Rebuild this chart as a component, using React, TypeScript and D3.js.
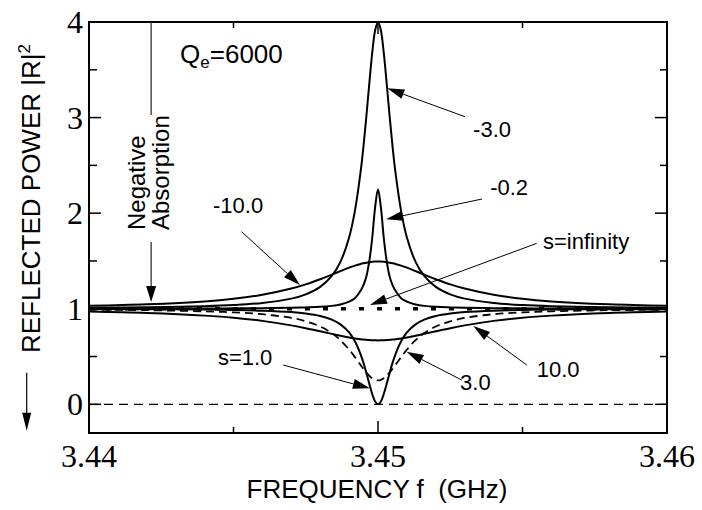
import React from 'react';
import * as d3 from 'd3';

const freq = [3.440, 3.442, 3.444, 3.445, 3.446, 3.447, 3.4475, 3.448, 3.4484, 3.4487, 3.449, 3.4492, 3.4494, 3.4495, 3.4496, 3.4497, 3.4498, 3.4499, 3.4500, 3.4501, 3.4502, 3.4503, 3.4504, 3.4505, 3.4506, 3.4508, 3.4510, 3.4513, 3.4516, 3.4520, 3.4525, 3.4530, 3.4540, 3.4550, 3.4560, 3.4580, 3.4600];

// Reflected power |R|^2 for each s
const sNeg3 = [1.010, 1.015, 1.027, 1.039, 1.061, 1.106, 1.151, 1.229, 1.343, 1.491, 1.746, 2.022, 2.436, 2.708, 3.022, 3.359, 3.676, 3.912, 4.000, 3.912, 3.676, 3.359, 3.022, 2.708, 2.436, 2.022, 1.746, 1.491, 1.343, 1.229, 1.151, 1.106, 1.061, 1.039, 1.027, 1.015, 1.010];
const sNeg02 = [1.001, 1.002, 1.003, 1.004, 1.006, 1.010, 1.014, 1.020, 1.030, 1.045, 1.075, 1.110, 1.190, 1.250, 1.340, 1.500, 1.740, 2.060, 2.250, 2.060, 1.740, 1.500, 1.340, 1.250, 1.190, 1.110, 1.075, 1.045, 1.030, 1.020, 1.014, 1.010, 1.006, 1.004, 1.003, 1.002, 1.001];
const sNeg10 = [1.031, 1.047, 1.077, 1.104, 1.146, 1.211, 1.255, 1.309, 1.357, 1.394, 1.430, 1.451, 1.469, 1.476, 1.482, 1.487, 1.491, 1.493, 1.494, 1.493, 1.491, 1.487, 1.482, 1.476, 1.469, 1.451, 1.430, 1.394, 1.357, 1.309, 1.255, 1.211, 1.146, 1.104, 1.077, 1.047, 1.031];
const sPos1 = [0.997, 0.995, 0.991, 0.987, 0.980, 0.965, 0.950, 0.924, 0.886, 0.836, 0.752, 0.659, 0.521, 0.431, 0.326, 0.214, 0.108, 0.029, 0.000, 0.029, 0.108, 0.214, 0.326, 0.431, 0.521, 0.659, 0.752, 0.836, 0.886, 0.924, 0.950, 0.965, 0.980, 0.987, 0.991, 0.995, 0.997];
const sPos3 = [0.990, 0.985, 0.973, 0.962, 0.943, 0.904, 0.869, 0.814, 0.745, 0.671, 0.573, 0.495, 0.410, 0.369, 0.331, 0.298, 0.272, 0.256, 0.250, 0.256, 0.272, 0.298, 0.331, 0.369, 0.410, 0.495, 0.573, 0.671, 0.745, 0.814, 0.869, 0.904, 0.943, 0.962, 0.973, 0.985, 0.990];
const sPos10 = [0.970, 0.955, 0.928, 0.906, 0.873, 0.826, 0.797, 0.764, 0.737, 0.717, 0.699, 0.689, 0.681, 0.677, 0.675, 0.672, 0.671, 0.670, 0.669, 0.670, 0.671, 0.672, 0.675, 0.677, 0.681, 0.689, 0.699, 0.717, 0.737, 0.764, 0.797, 0.826, 0.873, 0.906, 0.928, 0.955, 0.970];
const infFreq = [3.44, 3.46];
const sInf = [1, 1];
const zeroFreq = [3.44, 3.46];
const zeroVals = [0, 0];

const xTicks = [3.44, 3.45, 3.46];
const xTickLabels = ['3.44', '3.45', '3.46'];
const xMinor = [3.445, 3.455];
const yTicks = [0, 1, 2, 3, 4];
const yTickLabels = ['0', '1', '2', '3', '4'];
const yMinor = [0.5, 1.5, 2.5, 3.5];

// annotation labels (text pos + arrow tail + arrow tip, in data units)
const annLabels = ['-3.0', '-0.2', 's=infinity', '-10.0', 's=1.0', '3.0', '10.0'];
const annText = [[3.45329, 2.797], [3.45388, 2.190], [3.45571, 1.625], [3.44429, 2.000], [3.44446, 0.411], [3.45284, 0.150], [3.45549, 0.286]];
const annTail = [[3.45301, 3.009], [3.45360, 2.148], [3.45549, 1.684], [3.44528, 1.806], [3.44672, 0.411], [3.45290, 0.254], [3.45515, 0.411]];
const annTip = [[3.45032, 3.306], [3.45028, 1.936], [3.44972, 1.039], [3.44730, 1.248], [3.44972, 0.167], [3.45099, 0.550], [3.45330, 0.819]];

const SANS = '"Liberation Sans", Arial, sans-serif';
const SERIF = '"Liberation Serif", "Times New Roman", serif';

function Arrow({ x1, y1, x2, y2, len = 16, wid = 9, sw = 1, color = '#000' }:
  { x1: number; y1: number; x2: number; y2: number; len?: number; wid?: number; sw?: number; color?: string }) {
  const ang = Math.atan2(y2 - y1, x2 - x1);
  const bx = x2 - len * Math.cos(ang);
  const by = y2 - len * Math.sin(ang);
  const px = -Math.sin(ang) * wid / 2;
  const py = Math.cos(ang) * wid / 2;
  return (
    <g>
      <line x1={x1} y1={y1} x2={bx} y2={by} stroke={color} strokeWidth={sw} />
      <polygon points={`${x2},${y2} ${bx + px},${by + py} ${bx - px},${by - py}`} fill="#000" />
    </g>
  );
}

export default function App() {
  const W = 702, H = 510;
  const L = 89, R = 667, T = 22, B = 433;
  const x = d3.scaleLinear().domain([3.44, 3.46]).range([L, R]);
  const y = d3.scaleLinear().domain([-0.3, 4]).range([B, T]);

  const path = (vals: number[], fs: number[] = freq, smooth = true) => {
    const gen = d3.line<number>().x((_, i) => x(fs[i])).y((d) => y(d));
    if (smooth) gen.curve(d3.curveCatmullRom.alpha(0.5));
    return gen(vals) || '';
  };

  const solid = [sNeg3, sNeg02, sNeg10, sPos1, sPos10];

  const negX = x(3.44215);

  return (
    <svg width={W} height={H} style={{ position: 'absolute', left: 0, top: 0, background: '#fff' }}>
      <rect x={0} y={0} width={W} height={H} fill="#fff" />
      {/* zero reference */}
      <path d={path(zeroVals, zeroFreq, false)} fill="none" stroke="#000" strokeWidth={1.3} strokeDasharray="9,6" />
      {/* s = infinity dotted */}
      <path d={path(sInf, infFreq, false)} fill="none" stroke="#000" strokeWidth={3.5} strokeDasharray="5,13" />
      {/* s = 3 dashed */}
      <path d={path(sPos3)} fill="none" stroke="#000" strokeWidth={1.8} strokeDasharray="8,5" />
      {solid.map((vals, i) => (
        <path key={i} d={path(vals)} fill="none" stroke="#000" strokeWidth={2} strokeLinejoin="round" />
      ))}

      {/* frame */}
      <rect x={L} y={T} width={R - L} height={B - T} fill="none" stroke="#000" strokeWidth={2} />
      {/* y ticks */}
      {yTicks.map((t) => (
        <g key={'yt' + t}>
          <line x1={L} x2={L + 12} y1={y(t)} y2={y(t)} stroke="#000" strokeWidth={1.5} />
          <line x1={R} x2={R - 12} y1={y(t)} y2={y(t)} stroke="#000" strokeWidth={1.5} />
        </g>
      ))}
      {yMinor.map((t) => (
        <g key={'ym' + t}>
          <line x1={L} x2={L + 8} y1={y(t)} y2={y(t)} stroke="#000" strokeWidth={1.5} />
          <line x1={R} x2={R - 7} y1={y(t)} y2={y(t)} stroke="#000" strokeWidth={1.5} />
        </g>
      ))}
      {xTicks.map((t) => (
        <g key={'xt' + t}>
          <line x1={x(t)} x2={x(t)} y1={B} y2={B - 12} stroke="#000" strokeWidth={1.5} />
          <line x1={x(t)} x2={x(t)} y1={T} y2={T + 12} stroke="#000" strokeWidth={1.5} />
        </g>
      ))}
      {xMinor.map((t) => (
        <g key={'xm' + t}>
          <line x1={x(t)} x2={x(t)} y1={B} y2={B - 6} stroke="#000" strokeWidth={1.5} />
          <line x1={x(t)} x2={x(t)} y1={T} y2={T + 6} stroke="#000" strokeWidth={1.5} />
        </g>
      ))}
      {/* tick labels */}
      {yTicks.map((t, i) => (
        <text key={'yl' + t} x={83} y={y(t) + 11} textAnchor="end" fontFamily={SERIF} fontSize={32} fill="#000">
          {yTickLabels[i]}
        </text>
      ))}
      {xTicks.map((t, i) => (
        <text key={'xl' + t} x={x(t)} y={467} textAnchor="middle" fontFamily={SERIF} fontSize={32} fill="#000">
          {xTickLabels[i]}
        </text>
      ))}

      {/* axis titles */}
      <text x={377} y={498} textAnchor="middle" fontFamily={SANS} fontSize={26} fill="#000" style={{ whiteSpace: 'pre' }}>
        {'FREQUENCY f  (GHz)'}
      </text>
      <text transform="translate(40,353) rotate(-90)" fontFamily={SANS} fontSize={26} fill="#000">
        REFLECTED POWER |R|<tspan fontSize={17} dy={-10}>2</tspan>
      </text>
      <Arrow x1={26.7} y1={372.7} x2={26.7} y2={430.7} len={18} wid={9} sw={1.2} />

      {/* Q_e label */}
      <text x={x(3.44315)} y={y(3.566)} fontFamily={SANS} fontSize={26} fill="#000">
        Q<tspan fontSize={17} dy={5}>e</tspan><tspan dy={-5}>=6000</tspan>
      </text>

      {/* Negative absorption */}
      <line x1={negX} x2={negX} y1={y(4)} y2={y(3.027)} stroke="#333" strokeWidth={1.3} />
      <Arrow x1={negX} y1={y(1.698)} x2={negX} y2={y(1.070)} len={16} wid={10} sw={1.3} color="#333" />
      <text transform="translate(145,230) rotate(-90)" fontFamily={SANS} fontSize={24} fill="#000">Negative</text>
      <text transform="translate(169,230) rotate(-90)" fontFamily={SANS} fontSize={24} fill="#000">Absorption</text>

      {/* annotations */}
      {annLabels.map((lab, i) => (
        <g key={'ann' + i}>
          <text x={x(annText[i][0])} y={y(annText[i][1])} fontFamily={SANS} fontSize={22} fill="#000">{lab}</text>
          <Arrow x1={x(annTail[i][0])} y1={y(annTail[i][1])} x2={x(annTip[i][0])} y2={y(annTip[i][1])} len={17} wid={10} sw={1} />
        </g>
      ))}
    </svg>
  );
}
